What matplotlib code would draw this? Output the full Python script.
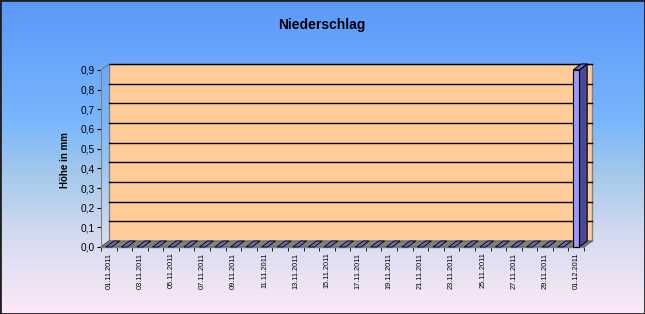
import matplotlib
matplotlib.use("Agg")
import matplotlib.pyplot as plt
import numpy as np
from matplotlib.patches import Polygon
from matplotlib.colors import LinearSegmentedColormap

# ---- data ----
dates = ["01.11.2011", "02.11.2011", "03.11.2011", "04.11.2011", "05.11.2011",
         "06.11.2011", "07.11.2011", "08.11.2011", "09.11.2011", "10.11.2011",
         "11.11.2011", "12.11.2011", "13.11.2011", "14.11.2011", "15.11.2011",
         "16.11.2011", "17.11.2011", "18.11.2011", "19.11.2011", "20.11.2011",
         "21.11.2011", "22.11.2011", "23.11.2011", "24.11.2011", "25.11.2011",
         "26.11.2011", "27.11.2011", "28.11.2011", "29.11.2011", "30.11.2011",
         "01.12.2011"]
values = [0.0] * 30 + [0.9]
y_ticks = [0.0, 0.1, 0.2, 0.3, 0.4, 0.5, 0.6, 0.7, 0.8, 0.9]
title = "Niederschlag"
y_label = "Höhe in mm"

plt.rcParams['font.family'] = ['Liberation Sans', 'DejaVu Sans']

W, H = 645, 314
fig = plt.figure(figsize=(W / 100, H / 100), dpi=100)

# background gradient
bg = fig.add_axes([0, 0, 1, 1], zorder=-10)
cmap = LinearSegmentedColormap.from_list("bg", [
    (0.0, "#5b98fb"), (0.38, "#78b6fd"), (0.55, "#a4c8ec"),
    (0.75, "#d4dbef"), (1.0, "#fde8f8")])
grad = np.linspace(0, 1, 256).reshape(-1, 1)
bg.imshow(grad, aspect='auto', cmap=cmap, extent=[0, 1, 0, 1], origin='upper')
bg.set_xlim(0, 1); bg.set_ylim(0, 1)
bg.axis('off')
bg.add_patch(plt.Rectangle((0, 0), 1, 1, fill=False, edgecolor='#202020',
                           linewidth=2, transform=bg.transAxes, clip_on=False))

# main axes = front plane
x0, x1 = 101, 584
yb, yt = 247, 70
ax = fig.add_axes([x0 / W, (H - yb) / H, (x1 - x0) / W, (yb - yt) / H])
ax.patch.set_alpha(0)
n = len(values)
ymax = 0.9
ax.set_xlim(0, n)
ax.set_ylim(0, ymax)
px_x = n / (x1 - x0)
px_y = ymax / (yb - yt)
dx = 8 * px_x
dy = 6 * px_y

grey = '#808080'
# back wall
ax.add_patch(Polygon([(dx, dy), (n + dx, dy), (n + dx, ymax + dy), (dx, ymax + dy)],
                     closed=True, facecolor='#ffcc99', edgecolor=grey, lw=1,
                     clip_on=False, zorder=1))
for yv in y_ticks[1:]:
    ax.plot([dx, n + dx], [yv + dy, yv + dy], color='black', lw=1,
            clip_on=False, zorder=2)
# side wall outline
ax.plot([0, dx], [ymax, ymax + dy], color=grey, lw=1, clip_on=False, zorder=2)
ax.plot([0, dx], [0, dy], color=grey, lw=1, clip_on=False, zorder=2)
# floor
ax.add_patch(Polygon([(0, 0), (n, 0), (n + dx, dy), (dx, dy)], closed=True,
                     facecolor='#808080', edgecolor='#606060', lw=0.8,
                     clip_on=False, zorder=3))

# bars
w = 0.19
for i, v in enumerate(values):
    c = i + 0.5
    l, r = c - w, c + w
    if v > 0:
        ax.add_patch(Polygon([(r, 0), (r + dx, dy), (r + dx, v + dy), (r, v)],
                             closed=True, facecolor='#4a4a94', edgecolor='black',
                             lw=0.8, clip_on=False, zorder=5))
        ax.add_patch(Polygon([(l, v), (r, v), (r + dx, v + dy), (l + dx, v + dy)],
                             closed=True, facecolor='#7070dd', edgecolor='black',
                             lw=0.8, clip_on=False, zorder=5))
        ax.add_patch(plt.Rectangle((l, 0), r - l, v, facecolor='#9999ff',
                                   edgecolor='black', lw=0.8, clip_on=False, zorder=6))
    else:
        ax.add_patch(Polygon([(l, 0), (r, 0), (r + dx, dy), (l + dx, dy)],
                             closed=True, facecolor='#6868cc', edgecolor='black',
                             lw=0.6, clip_on=False, zorder=5))

for s in ['top', 'right', 'bottom']:
    ax.spines[s].set_visible(False)
ax.spines['left'].set_color(grey)
ax.spines['left'].set_zorder(4)

ax.set_yticks(y_ticks)
ax.set_yticklabels([f"{t:.1f}".replace('.', ',') for t in y_ticks], fontsize=7.3)
ax.tick_params(axis='y', direction='out', length=3, color='black', pad=1.5)

centers = [i + 0.5 for i in range(0, n, 2)]
ax.set_xticks(centers)
ax.set_xticklabels([dates[i] for i in range(0, n, 2)], rotation=90,
                   fontsize=5.3)
ax.tick_params(axis='x', length=0, pad=4)
ax.set_xticks(np.arange(0, n + 1, 1), minor=True)
ax.tick_params(axis='x', which='minor', length=3, color='black', direction='out')
ax.plot([0, n], [0, 0], color=grey, lw=1, clip_on=False, zorder=4)

fig.text(322 / W, 1 - 25 / H, title, ha='center', va='center',
         fontsize=10, fontweight='bold')
fig.text(65 / W, 1 - 160 / H, y_label, ha='center', va='center',
         rotation=90, fontsize=7, fontweight='bold')

fig.savefig("out.png", dpi=100)
